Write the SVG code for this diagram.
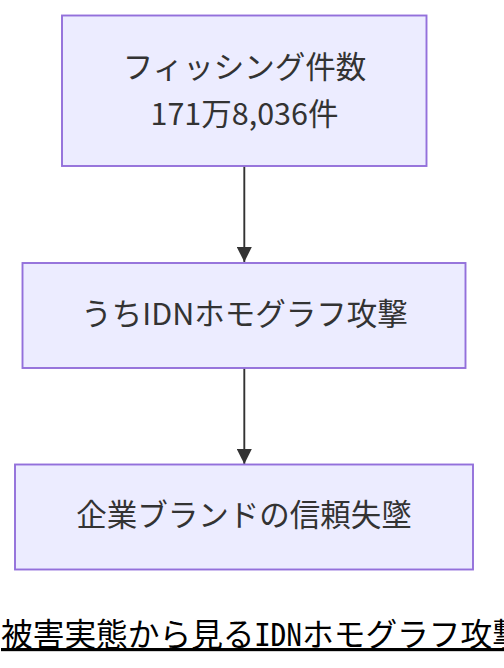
<svg xmlns="http://www.w3.org/2000/svg" width="504" height="668" viewBox="0 0 504 668">
<style>
.node rect{fill:#ECECFF;stroke:#9370DB;stroke-width:1.9px;}
.node text{font-family:"Noto Sans CJK JP","Noto Sans",sans-serif;font-size:30.5px;fill:#333333;text-anchor:middle;}
.edge{stroke:#333333;stroke-width:1.9px;fill:none;}
.caption{font-family:"Noto Sans Mono CJK JP","Noto Sans CJK JP","DejaVu Sans Mono",monospace;font-size:31.7px;fill:#000000;text-decoration:underline;}
</style>
<defs>
<marker id="arrow" viewBox="0 0 10 10" refX="10" refY="5" markerUnits="userSpaceOnUse" markerWidth="16" markerHeight="15" orient="auto">
<path d="M0,0 L10,5 L0,10 z" fill="#333333"/>
</marker>
</defs>
<g id="connectors">
<path class="edge" d="M244.3,166 L244.3,262" marker-end="url(#arrow)"/>
<path class="edge" d="M244.3,368 L244.3,464" marker-end="url(#arrow)"/>
</g>
<g id="node-phishing" class="node">
<rect x="62" y="15.5" width="364.5" height="150.5"/>
<text x="244.5" y="78">フィッシング件数</text>
<text x="244.5" y="124.5">171万8,036件</text>
</g>
<g id="node-idn" class="node">
<rect x="22.5" y="263" width="443" height="105"/>
<text x="244.5" y="325">うちIDNホモグラフ攻撃</text>
</g>
<g id="node-brand" class="node">
<rect x="15" y="464.5" width="458" height="105"/>
<text x="244" y="526">企業ブランドの信頼失墜</text>
</g>
<g id="caption">
<text class="caption" x="1" y="646">被害実態から見るIDNホモグラフ攻撃</text>
</g>
</svg>
